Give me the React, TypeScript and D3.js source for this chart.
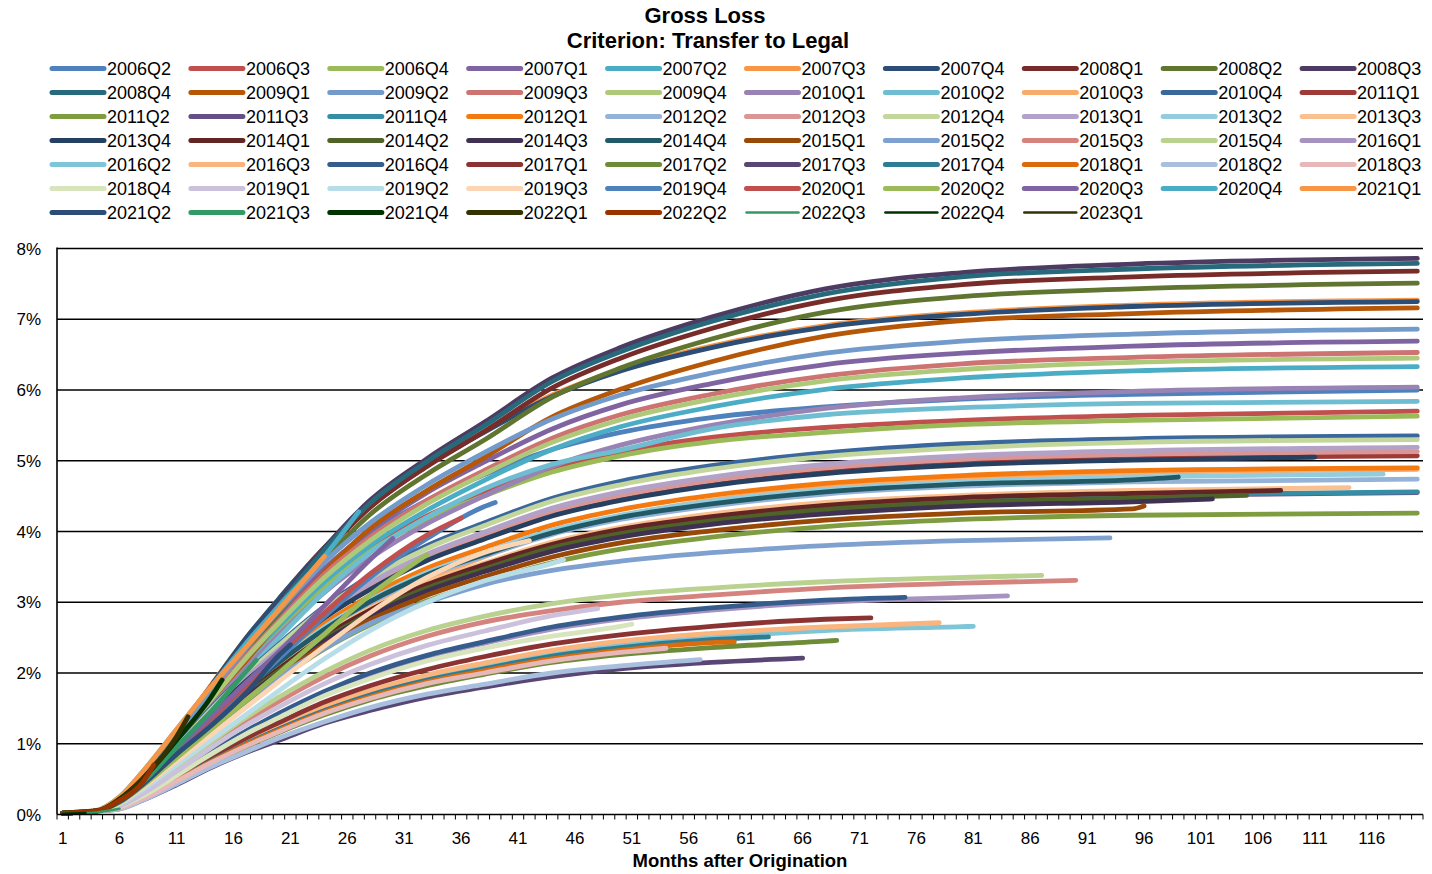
import React from "react";
import * as d3 from "d3";

const MONTHS = [1, 4, 6, 8, 11, 14, 17, 20, 24, 28, 33, 38, 44, 50, 58, 68, 80, 95, 120];

const COHORTS = [
  "2006Q2","2006Q3","2006Q4","2007Q1","2007Q2","2007Q3","2007Q4","2008Q1","2008Q2","2008Q3",
  "2008Q4","2009Q1","2009Q2","2009Q3","2009Q4","2010Q1","2010Q2","2010Q3","2010Q4","2011Q1",
  "2011Q2","2011Q3","2011Q4","2012Q1","2012Q2","2012Q3","2012Q4","2013Q1","2013Q2","2013Q3",
  "2013Q4","2014Q1","2014Q2","2014Q3","2014Q4","2015Q1","2015Q2","2015Q3","2015Q4","2016Q1",
  "2016Q2","2016Q3","2016Q4","2017Q1","2017Q2","2017Q3","2017Q4","2018Q1","2018Q2","2018Q3",
  "2018Q4","2019Q1","2019Q2","2019Q3","2019Q4","2020Q1","2020Q2","2020Q3","2020Q4","2021Q1",
  "2021Q2","2021Q3","2021Q4","2022Q1","2022Q2","2022Q3","2022Q4","2023Q1",
];

const END_MONTH = [
  120,120,120,120,120,120,120,120,120,120,
  120,120,120,120,120,120,120,120,120,120,
  120,120,120,120,120,120,120,120,117,114,
  111,108,105,102,99,96,93,90,87,84,
  81,78,75,72,69,66,63,60,57,54,
  51,48,45,42,39,36,33,30,27,24,
  21,18,15,12,9,6,3,0,
];

const COLORS = [
  "#4F81BD","#C0504D","#9BBB59","#8064A2","#4BACC6","#F79646","#2C4D75","#772C2A","#5F7530","#4D3B62",
  "#276A7C","#B65708","#729ACA","#CD7371","#AFC97A","#9983B5","#6FBDD1","#F9AB6B","#3A679C","#9E3B39",
  "#7E9D40","#664F85","#358EA5","#F47A10","#95B3D7","#D99694","#C3D69B","#B3A2C7","#93CDDD","#FAC090",
  "#254061","#632523","#4F6228","#3F3151","#215967","#984807","#7FA1D0","#D5837F","#BAD28F","#A793C0",
  "#7FC5D8","#FAB57E","#355C8D","#8B3332","#6E8B38","#5A4675","#2F7D92","#DC6B0C","#A8C0DE","#E6B8B7",
  "#D7E4BC","#CCC1DA","#B7DEE8","#FCD5B4","#4F81BD","#C0504D","#9BBB59","#8064A2","#4BACC6","#F79646",
  "#2C4D75","#339966","#003300","#333300","#993300","#339966","#003300","#333300",
];

const THIN = ["2022Q3", "2022Q4", "2023Q1"];
const Y_TICKS = [0, 1, 2, 3, 4, 5, 6, 7, 8];
const X_LABELS = [1, 6, 11, 16, 21, 26, 31, 36, 41, 46, 51, 56, 61, 66, 71, 76, 81, 86, 91, 96, 101, 106, 111, 116];

// Cumulative gross loss (%) per cohort
const c2006Q2 = [0.02,0.05,0.18,0.45,1.02,1.62,2.22,2.76,3.42,3.96,4.44,4.80,5.16,5.40,5.61,5.76,5.87,5.94,6.00];
const c2006Q3 = [0.02,0.05,0.17,0.43,0.97,1.54,2.11,2.62,3.25,3.76,4.22,4.56,4.90,5.13,5.33,5.47,5.57,5.64,5.70];
const c2006Q4 = [0.02,0.05,0.17,0.42,0.96,1.52,2.08,2.59,3.21,3.72,4.17,4.50,4.84,5.07,5.27,5.40,5.51,5.57,5.63];
const c2007Q1 = [0.02,0.05,0.19,0.47,1.07,1.67,2.27,2.81,3.48,4.01,4.55,4.98,5.45,5.79,6.09,6.36,6.52,6.62,6.69];
const c2007Q2 = [0.02,0.05,0.18,0.44,1.01,1.58,2.15,2.66,3.29,3.80,4.30,4.72,5.16,5.48,5.76,6.01,6.17,6.27,6.33];
const c2007Q3 = [0.02,0.05,0.20,0.51,1.16,1.82,2.47,3.05,3.78,4.36,4.94,5.42,5.93,6.29,6.62,6.91,7.09,7.20,7.27];
const c2007Q4 = [0.02,0.05,0.20,0.51,1.16,1.81,2.47,3.05,3.77,4.35,4.93,5.40,5.91,6.27,6.60,6.89,7.07,7.18,7.25];
const c2008Q1 = [0.02,0.05,0.19,0.46,1.08,1.69,2.30,2.92,3.69,4.34,4.92,5.41,6.03,6.45,6.87,7.26,7.49,7.60,7.68];
const c2008Q2 = [0.02,0.05,0.19,0.45,1.05,1.65,2.25,2.85,3.60,4.24,4.81,5.29,5.90,6.31,6.72,7.10,7.32,7.43,7.51];
const c2008Q3 = [0.02,0.05,0.20,0.47,1.10,1.73,2.36,2.99,3.77,4.44,5.03,5.54,6.17,6.60,7.03,7.43,7.66,7.78,7.86];
const c2008Q4 = [0.02,0.05,0.19,0.47,1.09,1.71,2.34,2.96,3.74,4.40,4.99,5.49,6.12,6.54,6.97,7.36,7.60,7.71,7.79];
const c2009Q1 = [0.02,0.05,0.18,0.43,1.00,1.57,2.15,2.72,3.43,4.04,4.58,5.04,5.62,6.01,6.40,6.76,6.98,7.08,7.16];
const c2009Q2 = [0.02,0.05,0.19,0.48,1.10,1.72,2.33,2.88,3.57,4.12,4.66,5.11,5.59,5.93,6.24,6.52,6.69,6.79,6.86];
const c2009Q3 = [0.02,0.05,0.18,0.46,1.04,1.63,2.22,2.74,3.40,3.92,4.44,4.86,5.32,5.65,5.94,6.20,6.37,6.46,6.53];
const c2009Q4 = [0.02,0.05,0.18,0.45,1.03,1.61,2.19,2.71,3.35,3.87,4.39,4.81,5.26,5.58,5.87,6.13,6.29,6.39,6.45];
const c2010Q1 = [0.02,0.05,0.17,0.42,0.97,1.51,2.05,2.54,3.14,3.62,4.11,4.50,4.92,5.22,5.50,5.74,5.89,5.98,6.04];
const c2010Q2 = [0.02,0.05,0.16,0.41,0.93,1.46,1.98,2.50,3.15,3.70,4.20,4.60,4.95,5.15,5.45,5.65,5.75,5.81,5.84];
const c2010Q3 = [0.02,0.05,0.14,0.34,0.78,1.22,1.66,2.05,2.54,2.93,3.32,3.64,3.98,4.22,4.44,4.64,4.76,4.83,4.88];
const c2010Q4 = [0.02,0.05,0.19,0.46,0.96,1.50,1.98,2.41,2.94,3.37,3.80,4.12,4.47,4.71,4.93,5.11,5.24,5.31,5.35];
const c2011Q1 = [0.02,0.05,0.18,0.43,0.91,1.42,1.88,2.28,2.79,3.19,3.60,3.90,4.23,4.46,4.66,4.84,4.96,5.03,5.07];
const c2011Q2 = [0.02,0.05,0.15,0.36,0.77,1.19,1.58,1.92,2.34,2.68,3.02,3.28,3.56,3.75,3.92,4.07,4.17,4.23,4.26];
const c2011Q3 = [0.02,0.05,0.16,0.39,0.82,1.27,1.68,2.05,2.50,2.87,3.23,3.50,3.80,4.00,4.19,4.35,4.45,4.51,4.55];
const c2011Q4 = [0.02,0.05,0.16,0.39,0.82,1.28,1.69,2.05,2.51,2.87,3.24,3.51,3.81,4.01,4.20,4.35,4.46,4.52,4.56];
const c2012Q1 = [0.02,0.05,0.17,0.42,0.88,1.37,1.81,2.21,2.70,3.09,3.48,3.77,4.09,4.31,4.51,4.68,4.79,4.86,4.90];
const c2012Q2 = [0.02,0.05,0.17,0.40,0.85,1.33,1.75,2.13,2.61,2.99,3.37,3.65,3.96,4.17,4.36,4.53,4.64,4.70,4.74];
const c2012Q3 = [0.02,0.05,0.18,0.44,0.92,1.44,1.90,2.31,2.82,3.23,3.64,3.95,4.28,4.51,4.72,4.90,5.02,5.09,5.13];
const c2012Q4 = [0.02,0.05,0.19,0.45,0.95,1.48,1.96,2.39,2.92,3.34,3.76,4.08,4.43,4.66,4.88,5.06,5.18,5.26,5.30];
const c2013Q1 = [0.02,0.05,0.18,0.44,0.93,1.45,1.92,2.33,2.85,3.27,3.68,3.99,4.33,4.56,4.77,4.95,5.07,5.14,5.19];
const c2013Q2 = [0.02,0.05,0.17,0.41,0.87,1.35,1.78,2.16,2.65,3.03,3.42,3.70,4.02,4.23,4.43,4.59,4.70,4.77,4.81];
const c2013Q3 = [0.02,0.05,0.16,0.39,0.83,1.29,1.71,2.08,2.54,2.91,3.28,3.55,3.85,4.06,4.25,4.41,4.51,4.58,4.62];
const c2013Q4 = [0.02,0.05,0.18,0.43,0.91,1.41,1.87,2.27,2.78,3.18,3.59,3.89,4.22,4.44,4.65,4.82,4.94,5.01,5.05];
const c2014Q1 = [0.02,0.05,0.16,0.39,0.82,1.28,1.69,2.06,2.52,2.89,3.25,3.53,3.82,4.03,4.21,4.37,4.48,4.54,4.58];
const c2014Q2 = [0.02,0.05,0.16,0.38,0.81,1.26,1.67,2.03,2.48,2.84,3.20,3.47,3.77,3.97,4.15,4.31,4.41,4.47,4.51];
const c2014Q3 = [0.02,0.05,0.16,0.38,0.80,1.25,1.65,2.00,2.45,2.81,3.16,3.43,3.72,3.92,4.10,4.25,4.36,4.42,4.46];
const c2014Q4 = [0.02,0.05,0.17,0.41,0.86,1.34,1.76,2.15,2.62,3.01,3.39,3.67,3.98,4.20,4.39,4.56,4.67,4.73,4.77];
const c2015Q1 = [0.02,0.05,0.15,0.37,0.78,1.22,1.61,1.96,2.40,2.75,3.10,3.36,3.64,3.84,4.01,4.16,4.26,4.32,4.36];
const c2015Q2 = [0.02,0.05,0.15,0.36,0.75,1.20,1.60,1.95,2.35,2.70,3.00,3.25,3.45,3.58,3.70,3.80,3.87,3.91];
const c2015Q3 = [0.02,0.05,0.12,0.30,0.64,0.99,1.31,1.60,1.95,2.24,2.52,2.72,2.88,3.00,3.10,3.20,3.27,3.31];
const c2015Q4 = [0.02,0.05,0.13,0.31,0.66,1.02,1.36,1.66,2.02,2.32,2.60,2.80,2.98,3.10,3.20,3.29,3.35,3.38];
const c2016Q1 = [0.02,0.05,0.11,0.27,0.57,0.88,1.16,1.41,1.73,1.98,2.23,2.42,2.62,2.76,2.89,3.00,3.07,3.09];
const c2016Q2 = [0.02,0.05,0.10,0.23,0.49,0.76,1.01,1.22,1.50,1.71,1.93,2.09,2.27,2.39,2.50,2.60,2.655,2.66];
const c2016Q3 = [0.02,0.05,0.10,0.24,0.50,0.78,1.03,1.25,1.53,1.75,1.97,2.14,2.32,2.45,2.56,2.65,2.71];
const c2016Q4 = [0.02,0.05,0.11,0.27,0.57,0.89,1.17,1.43,1.74,2.00,2.25,2.44,2.65,2.79,2.92,3.03,3.07];
const c2017Q1 = [0.02,0.05,0.10,0.25,0.52,0.81,1.07,1.30,1.59,1.82,2.05,2.23,2.41,2.54,2.66,2.76,2.78];
const c2017Q2 = [0.02,0.05,0.09,0.22,0.46,0.72,0.95,1.16,1.41,1.62,1.82,1.98,2.15,2.26,2.36,2.45,2.46];
const c2017Q3 = [0.02,0.05,0.08,0.20,0.42,0.66,0.87,1.05,1.29,1.47,1.66,1.80,1.95,2.06,2.15,2.21];
const c2017Q4 = [0.02,0.05,0.09,0.23,0.48,0.75,0.99,1.21,1.47,1.69,1.90,2.06,2.24,2.36,2.47,2.51];
const c2018Q1 = [0.02,0.05,0.09,0.22,0.48,0.74,0.98,1.19,1.45,1.66,1.87,2.03,2.20,2.32,2.43,2.44];
const c2018Q2 = [0.02,0.05,0.08,0.20,0.43,0.67,0.88,1.08,1.31,1.51,1.70,1.84,2.00,2.10,2.19];
const c2018Q3 = [0.02,0.05,0.09,0.22,0.47,0.73,0.96,1.17,1.43,1.64,1.85,2.00,2.17,2.29,2.35];
const c2018Q4 = [0.02,0.05,0.11,0.26,0.55,0.85,1.13,1.37,1.68,1.92,2.17,2.35,2.52,2.66,2.69];
const c2019Q1 = [0.02,0.05,0.12,0.29,0.61,0.94,1.25,1.52,1.85,2.12,2.39,2.59,2.81,2.91];
const c2019Q2 = [0.02,0.05,0.15,0.35,0.70,1.05,1.40,1.75,2.20,2.60,3.00,3.30,3.55,3.60];
const c2019Q3 = [0.02,0.05,0.16,0.38,0.75,1.12,1.50,1.88,2.38,2.85,3.35,3.70,3.87];
const c2019Q4 = [0.02,0.05,0.18,0.42,0.85,1.30,1.75,2.20,2.80,3.35,3.90,4.35,4.41];
const c2020Q1 = [0.02,0.05,0.20,0.45,0.90,1.35,1.80,2.25,2.85,3.40,3.95,4.19];
const c2020Q2 = [0.02,0.05,0.17,0.40,0.80,1.20,1.60,2.00,2.55,3.10,3.67];
const c2020Q3 = [0.02,0.05,0.20,0.45,0.90,1.38,1.85,2.30,2.95,3.60,3.90];
const c2020Q4 = [0.02,0.06,0.25,0.60,1.20,1.80,2.40,2.95,3.65,4.28];
const c2021Q1 = [0.02,0.06,0.25,0.60,1.20,1.80,2.35,2.90,3.65];
const c2021Q2 = [0.02,0.05,0.18,0.42,0.85,1.25,1.70,2.25,2.40];
const c2021Q3 = [0.02,0.05,0.20,0.45,0.95,1.45,2.00,2.18];
const c2021Q4 = [0.02,0.05,0.22,0.50,1.05,1.65,1.90];
const c2022Q1 = [0.02,0.05,0.20,0.50,1.10,1.38];
const c2022Q2 = [0.02,0.05,0.20,0.45,0.70];
const c2022Q3 = [0.01,0.03,0.08];
const c2022Q4 = [0.01,0.02];
const c2023Q1: number[] = [];

const LOSS = [
  c2006Q2,c2006Q3,c2006Q4,c2007Q1,c2007Q2,c2007Q3,c2007Q4,c2008Q1,c2008Q2,c2008Q3,
  c2008Q4,c2009Q1,c2009Q2,c2009Q3,c2009Q4,c2010Q1,c2010Q2,c2010Q3,c2010Q4,c2011Q1,
  c2011Q2,c2011Q3,c2011Q4,c2012Q1,c2012Q2,c2012Q3,c2012Q4,c2013Q1,c2013Q2,c2013Q3,
  c2013Q4,c2014Q1,c2014Q2,c2014Q3,c2014Q4,c2015Q1,c2015Q2,c2015Q3,c2015Q4,c2016Q1,
  c2016Q2,c2016Q3,c2016Q4,c2017Q1,c2017Q2,c2017Q3,c2017Q4,c2018Q1,c2018Q2,c2018Q3,
  c2018Q4,c2019Q1,c2019Q2,c2019Q3,c2019Q4,c2020Q1,c2020Q2,c2020Q3,c2020Q4,c2021Q1,
  c2021Q2,c2021Q3,c2021Q4,c2022Q1,c2022Q2,c2022Q3,c2022Q4,c2023Q1,
];

const FONT = "'Liberation Sans', Arial, Helvetica, sans-serif";

export default function App() {
  const W = 1432;
  const H = 874;
  const left = 57;
  const right = 1423;
  const top = 248.5;
  const bottom = 814.5;

  const x = d3.scaleLinear().domain([0.5, 120.5]).range([left, right]);
  const y = d3.scaleLinear().domain([0, 8]).range([bottom, top]);

  const line = d3
    .line<[number, number]>()
    .x((d) => x(d[0]))
    .y((d) => y(d[1]))
    .curve(d3.curveMonotoneX);

  const series = COHORTS.map((name, i) => {
    const end = END_MONTH[i];
    const months = end > 0 ? MONTHS.filter((m) => m < end).concat([end]) : [];
    const vals = LOSS[i];
    const n = Math.min(months.length, vals.length);
    const pts: [number, number][] = [];
    for (let k = 0; k < n; k++) pts.push([months[k], vals[k]]);
    return { name, color: COLORS[i], thin: THIN.includes(name), pts };
  });

  const tickBoundaries = d3.range(0.5, 121, 1);

  const legendCols = 10;
  const colPitch = 138.9;
  const rowPitch = 24;

  return (
    <svg
      width={W}
      height={H}
      style={{ position: "absolute", left: 0, top: 0, background: "#fff" }}
      fontFamily={FONT}
    >
      <rect x={0} y={0} width={W} height={H} fill="#fff" />
      {/* Title */}
      <text x={705} y={23} textAnchor="middle" fontSize={22} fontWeight="bold" fill="#000">
        Gross Loss
      </text>
      <text x={708} y={48} textAnchor="middle" fontSize={22} fontWeight="bold" fill="#000">
        Criterion: Transfer to Legal
      </text>

      {/* Legend */}
      {series.map((s, i) => {
        const col = i % legendCols;
        const row = Math.floor(i / legendCols);
        const lx = 50 + col * colPitch;
        const ly = 68.5 + row * rowPitch;
        return (
          <g key={"lg" + s.name}>
            <line
              x1={lx + 2}
              x2={lx + 54}
              y1={ly}
              y2={ly}
              stroke={s.color}
              strokeWidth={s.thin ? 2.5 : 5}
              strokeLinecap="round"
            />
            <text x={lx + 57} y={ly + 6.5} fontSize={18} fill="#000">
              {s.name}
            </text>
          </g>
        );
      })}

      {/* Gridlines */}
      {Y_TICKS.filter((t) => t > 0).map((t) => (
        <line key={"g" + t} x1={left} x2={right} y1={y(t)} y2={y(t)} stroke="#000" strokeWidth={1.6} />
      ))}

      {/* Series */}
      <g fill="none" strokeLinecap="round" strokeLinejoin="round">
        {series.map((s) =>
          s.pts.length > 1 ? (
            <path
              key={"s" + s.name}
              d={line(s.pts) || ""}
              stroke={s.color}
              strokeWidth={s.thin ? 2.5 : 4.8}
            />
          ) : null
        )}
      </g>

      {/* Axes */}
      <line x1={left} x2={left} y1={top - 1} y2={bottom} stroke="#000" strokeWidth={1.6} />
      <line x1={left} x2={right} y1={bottom} y2={bottom} stroke="#000" strokeWidth={1.6} />
      {tickBoundaries.map((b) => (
        <line key={"xt" + b} x1={x(b)} x2={x(b)} y1={bottom} y2={bottom + 5} stroke="#000" strokeWidth={1} />
      ))}
      {Y_TICKS.map((t) => (
        <text key={"yl" + t} x={41} y={y(t) + 6} textAnchor="end" fontSize={17} fill="#000">
          {t + "%"}
        </text>
      ))}
      {X_LABELS.map((m) => (
        <text key={"xl" + m} x={x(m)} y={844} textAnchor="middle" fontSize={17} fill="#000">
          {m}
        </text>
      ))}
      <text x={(left + right) / 2} y={867} textAnchor="middle" fontSize={18.5} fontWeight="bold" fill="#000">
        Months after Origination
      </text>
    </svg>
  );
}
